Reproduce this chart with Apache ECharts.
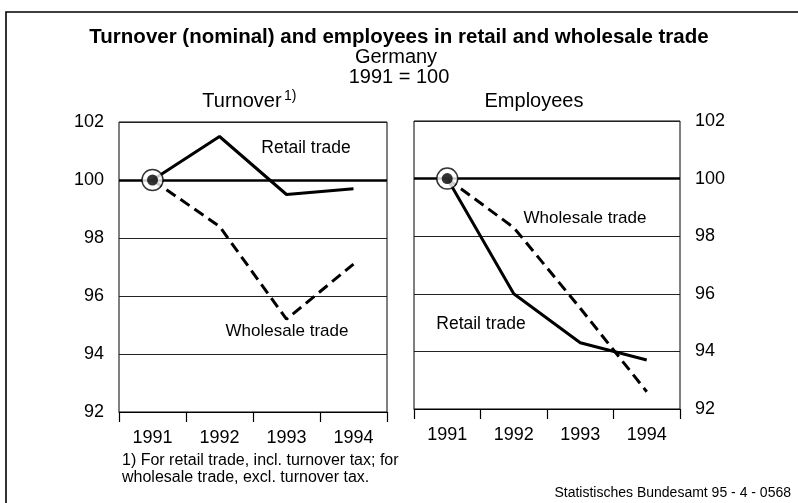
<!DOCTYPE html>
<html>
<head>
<meta charset="utf-8">
<script src="https://cdn.jsdelivr.net/npm/echarts@6/dist/echarts.min.js"></script>
<style>
  html, body { margin: 0; padding: 0; background: #fff; }
  #chart { width: 798px; height: 503px; }
</style>
</head>
<body>
<div id="chart"></div>
<script>
// Index values, 1991 = 100
const years = ['1991', '1992', '1993', '1994'];
const turnoverRetail = [100, 101.5, 99.5, 99.7];
const turnoverWholesale = [100, 98.4, 95.2, 97.1];
const employeesRetail = [100, 96.0, 94.3, 93.7];
const employeesWholesale = [100, 98.3, 95.5, 92.6];
const yTicks = { min: 92, max: 102, step: 2 };
const baseValue = 100;

const FONT = 'Arial, "Liberation Sans", Helvetica, sans-serif';
const chart = echarts.init(document.getElementById('chart'), null, { renderer: 'canvas' });

function textEl(text, x, y, size, opts) {
  opts = opts || {};
  return {
    type: 'text',
    x: x, y: y,
    z: 100,
    style: {
      text: text,
      x: 0, y: 0,
      fontSize: size,
      fontFamily: FONT,
      fontWeight: opts.bold ? 'bold' : 'normal',
      fill: '#000',
      align: opts.align || 'center',
      textAlign: opts.align || 'center',
      verticalAlign: 'middle',
      textVerticalAlign: 'middle'
    }
  };
}

function yAxisFor(gridIndex, position) {
  return {
    type: 'value',
    gridIndex: gridIndex,
    position: position,
    min: yTicks.min, max: yTicks.max, interval: yTicks.step,
    axisLine: { show: false },
    axisTick: { show: false },
    axisLabel: { color: '#000', fontSize: 18, fontFamily: FONT, margin: 15 },
    splitLine: { show: true, lineStyle: { color: '#222', width: 1 } }
  };
}

function xAxisFor(gridIndex) {
  return {
    type: 'category',
    gridIndex: gridIndex,
    data: years,
    boundaryGap: true,
    axisLine: { show: true, lineStyle: { color: '#000', width: 1 } },
    axisTick: { show: true, alignWithLabel: false, length: 10, lineStyle: { color: '#000', width: 1.2 } },
    axisLabel: { color: '#000', fontSize: 18, fontFamily: FONT, margin: 17 }
  };
}

function panelSeries(gridIndex, retail, wholesale) {
  return [
    {
      type: 'line', xAxisIndex: gridIndex, yAxisIndex: gridIndex,
      data: retail, symbol: 'none', z: 5,
      lineStyle: { color: '#000', width: 3 },
      markLine: {
        silent: true, symbol: 'none', label: { show: false },
        lineStyle: { color: '#000', width: 2.5, type: 'solid' },
        data: [{ yAxis: baseValue }]
      }
    },
    {
      type: 'line', xAxisIndex: gridIndex, yAxisIndex: gridIndex,
      data: wholesale, symbol: 'none', z: 5,
      lineStyle: { color: '#000', width: 3, type: [11, 6] }
    },
    {
      // base-year marker: white ring with black centre
      type: 'scatter', xAxisIndex: gridIndex, yAxisIndex: gridIndex,
      data: [[years[0], retail[0]]], symbol: 'circle', symbolSize: 21, z: 10,
      itemStyle: { color: '#fff', borderColor: '#000', borderWidth: 1.5 }
    },
    {
      type: 'scatter', xAxisIndex: gridIndex, yAxisIndex: gridIndex,
      data: [[years[0], retail[0]]], symbol: 'circle', symbolSize: 11, z: 11,
      itemStyle: { color: '#000' }
    }
  ];
}

const option = {
  backgroundColor: '#fff',
  animation: false,
  grid: [
    { left: 119, top: 122, width: 268, height: 290, show: true, borderColor: '#000', borderWidth: 1, backgroundColor: 'transparent' },
    { left: 414, top: 121, width: 266, height: 288, show: true, borderColor: '#000', borderWidth: 1, backgroundColor: 'transparent' }
  ],
  xAxis: [xAxisFor(0), xAxisFor(1)],
  yAxis: [yAxisFor(0, 'left'), yAxisFor(1, 'right')],
  series: panelSeries(0, turnoverRetail, turnoverWholesale)
    .concat(panelSeries(1, employeesRetail, employeesWholesale)),
  graphic: [
    {
      type: 'rect', z: 0,
      shape: { x: 6, y: 12, width: 900, height: 600 },
      style: { fill: 'none', stroke: '#000', lineWidth: 1.6 }
    },
    textEl('Turnover (nominal) and employees in retail and wholesale trade', 399, 37, 20.5, { bold: true }),
    textEl('Germany', 396, 57, 20),
    textEl('1991 = 100', 399, 77, 20),
    textEl('Turnover', 242, 101, 20),
    textEl('1)', 284, 96, 14, { align: 'left' }),
    textEl('Employees', 534, 101, 20),
    textEl('Retail trade', 306, 148, 17.5),
    textEl('Wholesale trade', 287, 331, 17),
    textEl('Wholesale trade', 585, 218, 17),
    textEl('Retail trade', 481, 324, 17.5),
    textEl('1) For retail trade, incl. turnover tax; for', 122, 461, 16, { align: 'left' }),
    textEl('wholesale trade, excl. turnover tax.', 122, 478, 16, { align: 'left' }),
    textEl('Statistisches Bundesamt 95 - 4 - 0568', 791, 493, 14, { align: 'right' })
  ]
};

chart.setOption(option);
</script>
</body>
</html>
